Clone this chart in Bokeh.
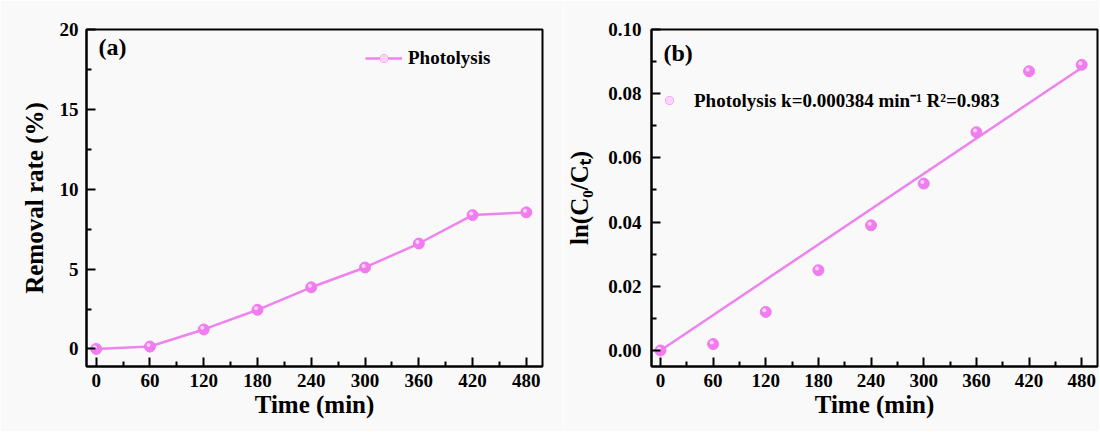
from bokeh.plotting import figure
from bokeh.layouts import row
from bokeh.models import (FixedTicker, Legend, LegendItem, Label, Range1d,
                          ColumnDataSource, NumeralTickFormatter)
from bokeh.transform import dodge
from bokeh.embed import file_html
from bokeh.resources import INLINE

# ---------------- data ----------------
time_min = [0, 60, 120, 180, 240, 300, 360, 420, 480]
removal_rate = [0.0, 0.15, 1.22, 2.45, 3.86, 5.1, 6.6, 8.38, 8.55]
ln_c0_ct = [0.0, 0.002, 0.012, 0.025, 0.039, 0.052, 0.068, 0.087, 0.089]

x_ticks = [0, 60, 120, 180, 240, 300, 360, 420, 480]
x_minor = [30, 90, 150, 210, 270, 330, 390, 450]
ya_ticks = [0, 5, 10, 15, 20]
ya_minor = [2.5, 7.5, 12.5, 17.5]
yb_ticks = [0.0, 0.02, 0.04, 0.06, 0.08, 0.10]
yb_minor = [0.01, 0.03, 0.05, 0.07, 0.09]

series_name = "Photolysis"
legend_b_text = "Photolysis k=0.000384 min\u207b\u00b9 R\u00b2=0.983"
xlabel = "Time (min)"
ylabel_a = "Removal rate (%)"
ylabel_b = "ln(C\u2080/C\u209c)"

# ---------------- style ----------------
FONT = "Liberation Serif"
BG = "#f9f9f9"
LINE_COLOR = "#EE82EE"
FILL_COLOR = "#F07CF0"
HL_COLOR = "#FBD3FB"


def style(p, xt, xm, yt, ym, y_std, ylab_std):
    p.background_fill_color = BG
    p.border_fill_color = BG
    p.outline_line_color = "black"
    p.outline_line_width = 2
    p.xgrid.visible = False
    p.ygrid.visible = False
    p.xaxis.ticker = FixedTicker(ticks=xt, minor_ticks=xm)
    p.yaxis.ticker = FixedTicker(ticks=yt, minor_ticks=ym)
    for ax in (p.xaxis[0], p.yaxis[0]):
        ax.axis_line_width = 2
        ax.axis_line_color = "black"
        ax.major_tick_line_width = 2
        ax.minor_tick_line_width = 2
        ax.major_tick_in = 9
        ax.major_tick_out = 0
        ax.minor_tick_in = 5
        ax.minor_tick_out = 0
        ax.major_label_text_font = FONT
        ax.major_label_text_font_style = "bold"
        ax.major_label_text_font_size = "19px"
        ax.major_label_text_color = "black"
        ax.axis_label_text_font = FONT
        ax.axis_label_text_font_style = "bold"
        ax.axis_label_text_font_size = "25px"
        ax.axis_label_text_color = "black"
    p.xaxis.major_label_standoff = 7
    p.xaxis.axis_label_standoff = 1
    p.yaxis.major_label_standoff = y_std
    p.yaxis.axis_label_standoff = ylab_std


src = ColumnDataSource(dict(t=time_min, r=removal_rate, l=ln_c0_ct))

# ---------------- panel (a) ----------------
p1 = figure(width=563, height=431, output_backend="svg", toolbar_location=None,
            x_range=Range1d(-10.8, 498), y_range=Range1d(-1.1, 20),
            min_border_left=86, min_border_right=21, min_border_top=25,
            min_border_bottom=65)
style(p1, x_ticks, x_minor, ya_ticks, ya_minor, 8, 9)
p1.xaxis.axis_label = xlabel
p1.yaxis.axis_label = ylabel_a

ln1 = p1.line("t", "r", source=src, line_color=LINE_COLOR, line_width=2.5)
sc1 = p1.scatter("t", "r", source=src, size=11, fill_color=FILL_COLOR,
                 line_color=FILL_COLOR)
hl1 = p1.scatter(dodge("t", -1.6), dodge("r", 0.1), source=src, size=4,
                 fill_color=HL_COLOR, line_color=None)

leg1 = Legend(items=[LegendItem(label=series_name, renderers=[ln1, sc1, hl1])],
              location=(279, 297))
leg1.background_fill_alpha = 0
leg1.border_line_alpha = 0
leg1.padding = 0
leg1.margin = 0
leg1.glyph_width = 37
leg1.glyph_height = 20
leg1.label_standoff = 6
leg1.label_text_font = FONT
leg1.label_text_font_style = "bold"
leg1.label_text_font_size = "19px"
leg1.label_text_color = "black"
p1.add_layout(leg1)

p1.add_layout(Label(x=2.6, y=19.7, text="(a)", text_baseline="top",
                    text_font=FONT, text_font_style="bold",
                    text_font_size="24px", text_color="black"))

# ---------------- panel (b) ----------------
# least-squares fit through the origin
sxy = sum(x * y for x, y in zip(time_min, ln_c0_ct))
sxx = sum(x * x for x in time_min)
slope = sxy / sxx
fit_x = [time_min[0], time_min[-1]]
fit_y = [slope * x for x in fit_x]

p2 = figure(width=536, height=431, output_backend="svg", toolbar_location=None,
            x_range=Range1d(-10.2, 498), y_range=Range1d(-0.005, 0.1),
            min_border_left=84, min_border_right=2, min_border_top=29,
            min_border_bottom=65)
style(p2, x_ticks, x_minor, yb_ticks, yb_minor, 10, 12)
p2.yaxis.formatter = NumeralTickFormatter(format="0.00")
p2.xaxis.axis_label = xlabel
p2.yaxis.axis_label = ylabel_b

p2.line(fit_x, fit_y, line_color=LINE_COLOR, line_width=2.5)
sc2 = p2.scatter("t", "l", source=src, size=11, fill_color=FILL_COLOR,
                 line_color=FILL_COLOR)
hl2 = p2.scatter(dodge("t", -1.6), dodge("l", 0.0005), source=src, size=4,
                 fill_color=HL_COLOR, line_color=None)

leg2 = Legend(items=[LegendItem(label=legend_b_text, renderers=[sc2, hl2])],
              location=(8, 253))
leg2.background_fill_alpha = 0
leg2.border_line_alpha = 0
leg2.padding = 0
leg2.margin = 0
leg2.glyph_width = 20
leg2.glyph_height = 20
leg2.label_standoff = 15
leg2.label_text_font = FONT
leg2.label_text_font_style = "bold"
leg2.label_text_font_size = "19px"
leg2.label_text_color = "black"
p2.add_layout(leg2)

p2.add_layout(Label(x=3.4, y=0.0967, text="(b)", text_baseline="top",
                    text_font=FONT, text_font_style="bold",
                    text_font_size="24px", text_color="black"))

layout = row(p1, p2)
open("out.html", "w").write(file_html(layout, INLINE))
